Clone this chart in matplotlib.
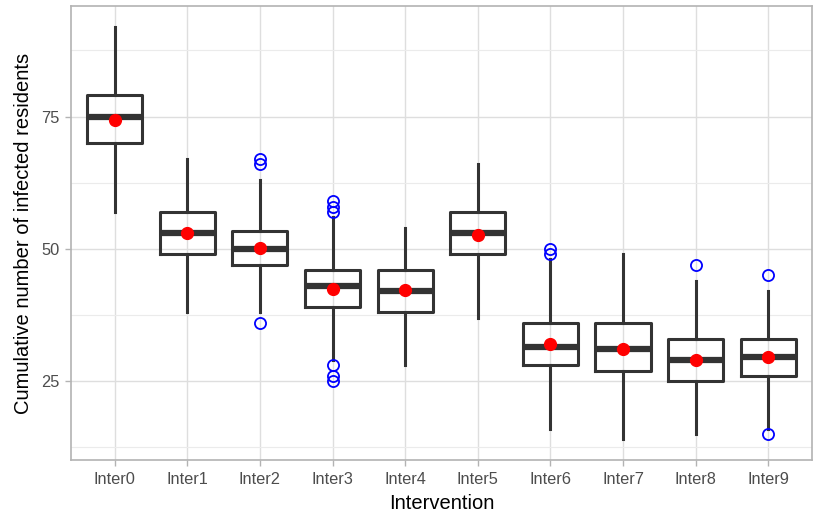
import numpy as np
import matplotlib.pyplot as plt
from matplotlib.ticker import MultipleLocator

plt.rcParams['font.family'] = ['Liberation Sans', 'DejaVu Sans']

# values
groups = ["Inter0", "Inter1", "Inter2", "Inter3", "Inter4",
          "Inter5", "Inter6", "Inter7", "Inter8", "Inter9"]
whis_lo = [57, 38, 38, 29, 28, 37, 16, 14, 15, 16]
q1 = [70, 49, 47, 39, 38, 49, 28, 27, 25, 26]
medians = [75, 53, 50, 43, 42, 53, 31.5, 31, 29, 29.5]
q3 = [79, 57, 53.3, 46, 46, 57, 36, 36, 33, 33]
whis_hi = [92, 67, 63, 56, 54, 66, 48, 49, 44, 42]
means = [74.4, 53.0, 50.2, 42.5, 42.2, 52.7, 32.0, 31.1, 29.0, 29.5]
outliers = [[], [], [67, 66, 36], [59, 58, 57, 28, 26, 25], [], [],
            [50, 49], [], [47], [45, 15]]

stats = []
for i, g in enumerate(groups):
    stats.append(dict(label=g, whislo=whis_lo[i], q1=q1[i], med=medians[i],
                      q3=q3[i], whishi=whis_hi[i], fliers=outliers[i]))

fig = plt.figure(figsize=(8.19, 5.15), dpi=100)
ax = fig.add_axes([0.0867, 0.1068, 0.9047, 0.8815])

pos = np.arange(len(groups))
line_col = "#333333"
ax.bxp(stats, positions=pos, widths=0.76, showfliers=True, patch_artist=False,
       boxprops=dict(color=line_col, linewidth=2.2),
       whiskerprops=dict(color=line_col, linewidth=2.2),
       capprops=dict(linewidth=0),
       medianprops=dict(color=line_col, linewidth=4.5, solid_capstyle="butt"),
       flierprops=dict(marker="o", markerfacecolor="none",
                       markeredgecolor="blue", markersize=8,
                       markeredgewidth=1.3),
       zorder=3)
ax.plot(pos, means, "o", color="red", markersize=8.5, zorder=4,
        linestyle="none")

ax.set_xlim(-0.6, 9.6)
ax.set_ylim(10.1, 95.9)
ax.set_xticks(pos)
ax.set_xticklabels(groups)
ax.yaxis.set_major_locator(MultipleLocator(25))
ax.yaxis.set_minor_locator(MultipleLocator(12.5))

ax.grid(which="major", color="#DEDEDE", linewidth=1.0, zorder=0)
ax.grid(which="minor", axis="y", color="#EBEBEB", linewidth=0.8, zorder=0)
ax.set_axisbelow(True)
for s in ax.spines.values():
    s.set_color("#B3B3B3")
    s.set_linewidth(1.2)

ax.tick_params(which="major", color="#B3B3B3", length=4, width=1,
               labelsize=11.8, labelcolor="#4D4D4D", pad=4)
ax.tick_params(axis="x", pad=5)
ax.tick_params(which="minor", length=0)
ax.set_xlabel("Intervention", fontsize=14.5, labelpad=4.5)
ax.set_ylabel("Cumulative number of infected residents", fontsize=14.5,
              labelpad=6)

fig.savefig("out.png", dpi=100)
